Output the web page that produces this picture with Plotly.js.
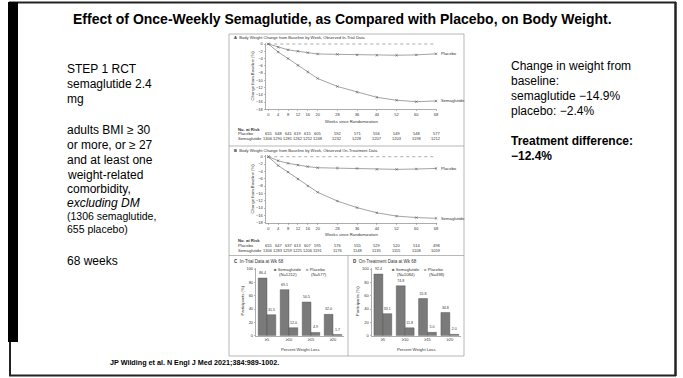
<!DOCTYPE html>
<html><head><meta charset="utf-8">
<script src="https://cdn.plot.ly/plotly-3.0.1.min.js"></script>
<style>html,body{margin:0;padding:0;background:#fff}#c{width:683px;height:378px}</style>
</head><body><div id="c"></div>
<script>
// ---- data ----
const weeks = [0,4,8,12,16,20,28,36,44,52,60,68];
const placeboA = [0,-0.9,-1.6,-2.0,-2.4,-2.75,-2.85,-3.0,-3.1,-3.1,-3.0,-2.7];
const semaA    = [0,-2.2,-4.0,-5.9,-7.7,-9.5,-11.7,-13.3,-14.7,-15.5,-15.9,-15.7];
const placeboB = [0,-1.1,-1.8,-2.3,-2.7,-3.0,-3.1,-3.2,-3.45,-3.45,-3.35,-3.2];
const semaB    = [0,-2.4,-4.2,-6.1,-8.0,-9.7,-12.1,-13.9,-15.3,-16.2,-16.6,-16.8];
const riskA_placebo = [655,648,641,619,615,605,592,571,556,549,548,577];
const riskA_sema    = [1306,1290,1281,1262,1252,1248,1232,1228,1207,1203,1198,1212];
const riskB_placebo = [655,647,637,613,607,595,576,555,529,520,514,498];
const riskB_sema    = [1306,1283,1259,1225,1206,1191,1176,1148,1135,1115,1108,1059];
const yTicksLine = [0,-2,-4,-6,-8,-10,-12,-14,-16,-18];
const cats  = ['≥5','≥10','≥15','≥20'];
const semaC = [86.4,69.1,50.5,32.0];
const placC = [31.5,12.0,4.9,1.7];
const semaD = [92.4,74.8,55.8,34.8];
const placD = [33.1,11.8,5.0,2.0];
const leftLines = ['STEP 1 RCT','semaglutide 2.4','mg','','adults BMI ≥ 30','or more, or ≥ 27','and at least one','weight-related','comorbidity,','<i>excluding DM</i>','(1306 semaglutide,','655 placebo)','','68 weeks'];
const rightLines = ['Change in weight from','baseline:','semaglutide −14.9%','placebo: −2.4%','','<b>Treatment difference:</b>','<b>−12.4%</b>'];

// ---- helpers ----
const W=683,H=378;
const px=x=>x/W, py=y=>1-y/H;
const FONT='Liberation Sans, Arial, sans-serif';
const ann=[], shapes=[];
function txt(x,y,t,size,o){ann.push(Object.assign({x:px(x),y:py(y),xref:'paper',yref:'paper',text:t,showarrow:false,xanchor:'left',yanchor:'middle',font:{family:FONT,size:size,color:'#000'}},o||{}));}
function rect(x0,y0,x1,y1,o){shapes.push(Object.assign({type:'rect',xref:'paper',yref:'paper',x0:px(x0),x1:px(x1),y0:py(y0),y1:py(y1)},o));}
function line(x0,y0,x1,y1,c,w){shapes.push({type:'line',xref:'paper',yref:'paper',x0:px(x0),x1:px(x1),y0:py(y0),y1:py(y1),line:{color:c,width:w}});}

// ---- slide frame ----
line(9,2.5,676,2.5,'#222',2);
line(675.5,2,675.5,376,'#222',2.5);
line(9,375.5,676,375.5,'#222',2);
line(10,2,10,376,'#222',2);
rect(8,2,18,342,{fillcolor:'#000',line:{width:0}});

// title and texts
txt(342,19,'<b>Effect of Once-Weekly Semaglutide, as Compared with Placebo, on Body Weight.</b>',14,{xanchor:'center'});
const leftY=[69,84,99,114,130,145,160,175,189,202.5,216,228.5,245,261];
leftLines.forEach((t,i)=>{ if(t) txt(65,leftY[i],t,(i===10||i===11)?10.5:12); });
const rightY=[66,81,96,111,126,141,156];
rightLines.forEach((t,i)=>{ if(t) txt(509,rightY[i],t,12); });
txt(108,362,'<b>JP Wilding et al. N Engl J Med 2021;384:989-1002.</b>',7.2);

// ---- figure frame ----
const G='#9a9a9a';
rect(229,34,464,356,{line:{color:G,width:0.7}});
line(229,146,464,146,G,0.7);
line(229,255.5,464,255.5,G,0.7);
line(348,255.5,348,356,G,0.7);

const col='#333';
function ftxt(x,y,t,size,o){txt(x,y,t,size,Object.assign({font:{family:FONT,size:size,color:col}},o||{}));}
ftxt(232,37.8,'<b>A</b>  Body Weight Change from Baseline by Week, Observed In-Trial Data',4.1);
ftxt(232,150.5,'<b>B</b>  Body Weight Change from Baseline by Week, Observed On-Treatment Data',4.1);
ftxt(232,261,'<b>C</b>  In-Trial Data at Wk 68',4.5);
ftxt(351,261,'<b>D</b>  On-Treatment Data at Wk 68',4.5);

// axis titles
ftxt(351,121,'Weeks since Randomization',4.2,{xanchor:'center'});
ftxt(351,234,'Weeks since Randomization',4.2,{xanchor:'center'});
ftxt(251.5,76,'Change from Baseline (%)',4.2,{xanchor:'center',textangle:-90});
ftxt(251.5,189,'Change from Baseline (%)',4.2,{xanchor:'center',textangle:-90});
ftxt(241.5,301,'Participants (%)',4.2,{xanchor:'center',textangle:-90});
ftxt(357,301,'Participants (%)',4.2,{xanchor:'center',textangle:-90});
ftxt(300,349,'Percent Weight Loss',4.2,{xanchor:'center'});
ftxt(416,349,'Percent Weight Loss',4.2,{xanchor:'center'});

// at-risk tables
function riskTable(yHead,yP,yS,xa,rp,rs){
  ftxt(236,yHead,'<b>No. at Risk</b>',4.2);
  ftxt(236,yP,'Placebo',4.2);
  ftxt(236,yS,'Semaglutide',4.2);
  weeks.forEach((w,i)=>{
    ann.push({x:w,xref:xa,y:py(yP),yref:'paper',text:String(rp[i]),showarrow:false,xanchor:'center',yanchor:'middle',font:{family:FONT,size:4,color:col}});
    ann.push({x:w,xref:xa,y:py(yS),yref:'paper',text:String(rs[i]),showarrow:false,xanchor:'center',yanchor:'middle',font:{family:FONT,size:4,color:col}});
  });
}
riskTable(129,134,139,'x',riskA_placebo,riskA_sema);
riskTable(240,245.5,250.5,'x2',riskB_placebo,riskB_sema);

// series end labels
function endLabel(xa,ya,arr,t){ann.push({x:weeks[weeks.length-1],y:arr[arr.length-1],xref:xa,yref:ya,text:t,showarrow:false,xanchor:'left',xshift:3,yanchor:'middle',font:{family:FONT,size:4.2,color:col}});}
endLabel('x','y',placeboA,'Placebo'); endLabel('x','y',semaA,'Semaglutide');
endLabel('x2','y2',placeboB,'Placebo'); endLabel('x2','y2',semaB,'Semaglutide');

// zero reference dotted lines
['',"2"].forEach(s=>{shapes.push({type:'line',xref:'x'+s,yref:'y'+s,x0:0,x1:68,y0:0,y1:0,line:{color:'#888',width:0.7,dash:'dot'}});});

// bar legends
function barLegend(x,y,n1,n2){
  ftxt(x,y,'<span style="color:#6f6f6f">■</span> Semaglutide',4.2);
  ftxt(x+5,y+5,'(N='+n1+')',4.2);
  ftxt(x+32,y,'<span style="color:#a8a8a8">■</span> Placebo',4.2);
  ftxt(x+37,y+5,'(N='+n2+')',4.2);
}
barLegend(272,269,1212,577);
barLegend(390,269,1084,498);

// ---- traces ----
const lineStyle={color:'#8c8c8c',width:0.8};
const mk={symbol:'x-thin',size:2.4,line:{color:'#555',width:0.6},color:'#555'};
function lt(x,y,xa,ya){return {type:'scatter',mode:'lines+markers',x:x,y:y,xaxis:xa,yaxis:ya,line:lineStyle,marker:mk,showlegend:false,cliponaxis:false,hoverinfo:'skip'};}
function bt(y,xa,ya,c){return {type:'bar',x:cats,y:y,xaxis:xa,yaxis:ya,marker:{color:c,line:{color:'#4a4a4a',width:0.4}},text:y.map(v=>v.toFixed(1)),textposition:'outside',constraintext:'none',cliponaxis:false,textfont:{family:FONT,size:3.6,color:'#333'},showlegend:false,hoverinfo:'skip'};}
const data=[
  lt(weeks,placeboA,'x','y'), lt(weeks,semaA,'x','y'),
  lt(weeks,placeboB,'x2','y2'), lt(weeks,semaB,'x2','y2'),
  bt(semaC,'x3','y3','#7a7a7a'), bt(placC,'x3','y3','#7a7a7a'),
  bt(semaD,'x4','y4','#7a7a7a'), bt(placD,'x4','y4','#7a7a7a')
];

const axB={showgrid:false,zeroline:false,showline:true,linecolor:'#777',linewidth:0.6,ticks:'outside',ticklen:1.5,tickwidth:0.5,tickcolor:'#777',tickfont:{family:FONT,size:4,color:'#333'},fixedrange:true};
const xl=Object.assign({},axB,{range:[-1.05,68.5],tickvals:weeks});
const yl=Object.assign({},axB,{range:[-18,0.36],tickvals:yTicksLine});
const xb=Object.assign({},axB,{type:'category',range:[-0.5,3.5],ticks:''});
const yb=Object.assign({},axB,{range:[0,102],tickvals:[0,20,40,60,80,100]});

const layout={
  width:W,height:H,margin:{l:0,r:0,t:0,b:0},paper_bgcolor:'#fff',plot_bgcolor:'rgba(0,0,0,0)',
  showlegend:false,barmode:'group',bargap:0.2,bargroupgap:0,
  xaxis:Object.assign({},xl,{domain:[px(265.7),px(437.3)],anchor:'y'}),
  yaxis:Object.assign({},yl,{domain:[py(109.3),py(42.7)],anchor:'x'}),
  xaxis2:Object.assign({},xl,{domain:[px(265.7),px(437.3)],anchor:'y2'}),
  yaxis2:Object.assign({},yl,{domain:[py(222.7),py(155.4)],anchor:'x2'}),
  xaxis3:Object.assign({},xb,{domain:[px(256),px(344)],anchor:'y3'}),
  yaxis3:Object.assign({},yb,{domain:[py(335.7),py(267.7)],anchor:'x3'}),
  xaxis4:Object.assign({},xb,{domain:[px(371.7),px(461)],anchor:'y4'}),
  yaxis4:Object.assign({},yb,{domain:[py(335.7),py(267.7)],anchor:'x4'}),
  annotations:ann,shapes:shapes,font:{family:FONT}
};
Plotly.newPlot('c',data,layout,{staticPlot:true,displayModeBar:false});
</script></body></html>
